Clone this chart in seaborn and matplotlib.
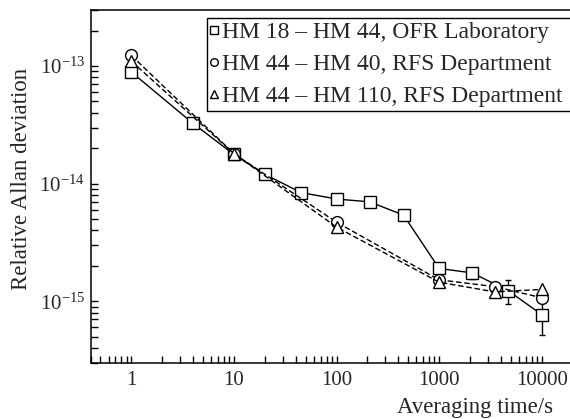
import numpy as np
import pandas as pd
import seaborn as sns
import matplotlib.pyplot as plt
from matplotlib.lines import Line2D
from matplotlib.ticker import FixedLocator, FixedFormatter, LogLocator, NullFormatter

# Data (Allan deviation vs averaging time)
tau_ofr = [1, 4, 10, 20, 45, 100, 210, 450, 1000, 2100, 4700, 10000]
adev_ofr = [8.9e-14, 3.25e-14, 1.77e-14, 1.2e-14, 8.4e-15, 7.4e-15, 7.0e-15,
            5.4e-15, 1.9e-15, 1.74e-15, 1.23e-15, 7.7e-16]
err_tau_ofr = [2100, 4700, 10000]
err_adev_ofr = [1.74e-15, 1.23e-15, 7.7e-16]
err_ofr = [0.18e-15, 0.29e-15, 0.25e-15]

tau_rfs = [1, 10, 100, 1000, 3500, 10000]
adev_hm40 = [1.23e-13, 1.8e-14, 4.7e-15, 1.52e-15, 1.33e-15, 1.07e-15]
adev_hm110 = [1.1e-13, 1.8e-14, 4.27e-15, 1.45e-15, 1.2e-15, 1.26e-15]

series_names = ["HM 18 – HM 44, OFR Laboratory",
                "HM 44 – HM 40, RFS Department",
                "HM 44 – HM 110, RFS Department"]
series_markers = ["s", "o", "^"]

xtick_values = [1, 10, 100, 1000, 10000]
xtick_labels = ["1", "10", "100", "1000", "10000"]
ytick_values = [1e-15, 1e-14, 1e-13]
ytick_labels = [r"$10^{-15}$", r"$10^{-14}$", r"$10^{-13}$"]

df = pd.concat([
    pd.DataFrame({"tau": tau_ofr, "adev": adev_ofr, "series": series_names[0]}),
    pd.DataFrame({"tau": tau_rfs, "adev": adev_hm40, "series": series_names[1]}),
    pd.DataFrame({"tau": tau_rfs, "adev": adev_hm110, "series": series_names[2]}),
], ignore_index=True)

sns.set_theme(style="ticks")
plt.rcParams["font.family"] = ["Liberation Serif", "DejaVu Serif"]
plt.rcParams["mathtext.fontset"] = "custom"
plt.rcParams["mathtext.rm"] = "Liberation Serif"
plt.rcParams["mathtext.it"] = "Liberation Serif:italic"

fig = plt.figure(figsize=(5.7, 4.19), dpi=100)
ax = fig.add_axes([0.1588, 0.1344, 0.8458, 0.8418])
ax.set_xscale("log")
ax.set_yscale("log")

ax.errorbar(err_tau_ofr, err_adev_ofr, yerr=err_ofr, fmt="none", ecolor="black",
            elinewidth=1, capsize=2.5, capthick=1, zorder=1)

sns.lineplot(data=df, x="tau", y="adev", hue="series", style="series",
             palette={n: "black" for n in series_names},
             markers=dict(zip(series_names, series_markers)),
             dashes={series_names[0]: "", series_names[1]: (4, 2), series_names[2]: (4, 2)},
             estimator=None, sort=False, legend=False, ax=ax,
             linewidth=1.0, markersize=8.5, markerfacecolor="white",
             markeredgecolor="black", markeredgewidth=1.0, zorder=2)

ax.set_xlim(0.4, 2e4)
ax.set_ylim(3e-16, 3e-13)

ax.xaxis.set_major_locator(FixedLocator(xtick_values))
ax.xaxis.set_major_formatter(FixedFormatter(xtick_labels))
ax.xaxis.set_minor_locator(LogLocator(base=10, subs=np.arange(2, 10)))
ax.xaxis.set_minor_formatter(NullFormatter())
ax.yaxis.set_major_locator(FixedLocator(ytick_values))
ax.yaxis.set_major_formatter(FixedFormatter(ytick_labels))
ax.yaxis.set_minor_locator(LogLocator(base=10, subs=np.arange(2, 10)))
ax.yaxis.set_minor_formatter(NullFormatter())

ax.tick_params(which="both", direction="in", length=5, width=1, color="black",
               top=False, right=False)
ax.tick_params(axis="x", which="major", pad=6, labelsize=15)
ax.tick_params(axis="y", which="major", pad=4, labelsize=15)
for s in ax.spines.values():
    s.set_linewidth(1.1)
    s.set_color("black")

ax.set_ylabel("Relative Allan deviation", fontsize=16.5, va="center")
ax.yaxis.set_label_coords(-0.1422, 0.522)
ax.set_xlabel("Averaging time/s", fontsize=16.5, ha="right", va="top")
ax.xaxis.set_label_coords(0.9594, -0.097)

handles = [Line2D([], [], linestyle="none", marker=m, markersize=5.5,
                  markerfacecolor="white", markeredgecolor="black", markeredgewidth=1)
           for m in series_markers]
leg_x0 = 206.7 / 570
leg = ax.legend(handles, series_names, loc="upper left", mode="expand",
                bbox_to_anchor=(leg_x0, 1 - 18.0 / 419, 574 / 570 - leg_x0, 0),
                bbox_transform=fig.transFigure,
                fontsize=17, frameon=True, fancybox=False, edgecolor="black",
                framealpha=1, borderpad=0.15, handlelength=0.3, handletextpad=0.2,
                labelspacing=0.45, borderaxespad=0)
leg.get_frame().set_linewidth(1.0)

fig.savefig("out.png", dpi=100)
